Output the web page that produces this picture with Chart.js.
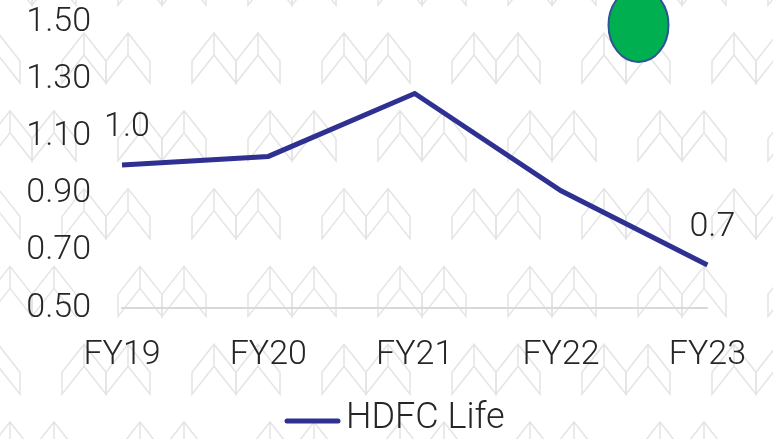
<!DOCTYPE html>
<html>
<head>
<meta charset="utf-8">
<script src="https://cdn.jsdelivr.net/npm/chart.js@4"></script>
<style>
  html, body { margin: 0; padding: 0; background: #fff; }
  #wrap { width: 773px; height: 439px; }
</style>
</head>
<body>
<div id="wrap"><canvas id="chart" width="773" height="439"></canvas></div>
<script>
const categories = ["FY19", "FY20", "FY21", "FY22", "FY23"];
const hdfcLife = [1.0, 1.03, 1.25, 0.91, 0.65];
const pointLabels = ["1.0", "", "", "", "0.7"];
const yMin = 0.5;
const yMax = 1.5;
const yStep = 0.2;

const fontFamily = "Roboto, 'Noto Sans', sans-serif";
const fontWeight = 300;
const textColor = "#262626";
const lineColor = "#2e3192";

// light grey double-chevron watermark behind everything
const watermark = {
  id: "watermark",
  beforeDraw(chart) {
    const ctx = chart.ctx;
    ctx.save();
    ctx.fillStyle = "#ffffff";
    ctx.fillRect(0, 0, chart.width, chart.height);
    ctx.strokeStyle = "#e4e4e4";
    ctx.lineWidth = 1.5;
    const rowH = 77.8;
    for (let r = -1; r < 7; r++) {
      const top = 33 + r * rowH;
      const startX = (r % 2 === 0) ? 62 : -12;
      for (let x0 = startX - 130; x0 < chart.width + 10; x0 += 130) {
        for (let c = 0; c < 2; c++) {
          const x = x0 + c * 44;
          ctx.beginPath();
          ctx.moveTo(x, top + 28);
          ctx.lineTo(x + 22, top);
          ctx.lineTo(x + 44, top + 28);
          ctx.lineTo(x + 44, top + 50);
          ctx.lineTo(x + 22, top + 22);
          ctx.lineTo(x, top + 50);
          ctx.closePath();
          ctx.moveTo(x + 22, top);
          ctx.lineTo(x + 22, top + 22);
          ctx.stroke();
        }
      }
    }
    ctx.restore();
  }
};

const extras = {
  id: "extras",
  afterDatasetsDraw(chart) {
    const ctx = chart.ctx;
    const meta = chart.getDatasetMeta(0);
    ctx.save();
    ctx.font = fontWeight + " 34px " + fontFamily;
    ctx.fillStyle = textColor;
    ctx.textAlign = "center";
    ctx.textBaseline = "middle";
    meta.data.forEach((pt, i) => {
      if (pointLabels[i]) ctx.fillText(pointLabels[i], pt.x + 5, pt.y - 38);
    });

    // green status dot
    ctx.beginPath();
    ctx.ellipse(638.5, 25, 30, 37, 0, 0, Math.PI * 2);
    ctx.fillStyle = "#00b050";
    ctx.fill();
    ctx.lineWidth = 2;
    ctx.strokeStyle = "#2f5597";
    ctx.stroke();

    // legend
    const ly = 421;
    ctx.beginPath();
    ctx.moveTo(287, ly);
    ctx.lineTo(338, ly);
    ctx.lineCap = "round";
    ctx.lineWidth = 5;
    ctx.strokeStyle = lineColor;
    ctx.stroke();
    ctx.font = fontWeight + " 36px " + fontFamily;
    ctx.fillStyle = textColor;
    ctx.textAlign = "left";
    ctx.fillText(chart.data.datasets[0].label, 346, ly - 2);
    ctx.restore();
  }
};

new Chart(document.getElementById("chart"), {
  type: "line",
  data: {
    labels: categories,
    datasets: [{
      label: "HDFC Life",
      data: hdfcLife,
      borderColor: lineColor,
      backgroundColor: lineColor,
      borderWidth: 5,
      pointRadius: 0,
      tension: 0,
      fill: false
    }]
  },
  options: {
    responsive: false,
    animation: false,
    layout: { padding: { top: 22, right: 64, left: 0, bottom: 58 } },
    plugins: {
      tooltip: { enabled: false },
      legend: { display: false }
    },
    scales: {
      x: {
        offset: false,
        grid: { display: false, drawTicks: false },
        border: { display: true, color: "#d9d9d9", width: 2 },
        ticks: { color: textColor, font: { family: fontFamily, size: 34, weight: fontWeight }, padding: 27, maxRotation: 0 },
        afterFit(scale) { scale.height = 73; }
      },
      y: {
        min: yMin,
        max: yMax,
        grid: { display: false, drawTicks: false },
        border: { display: false },
        ticks: {
          stepSize: yStep,
          color: textColor,
          font: { family: fontFamily, size: 34, weight: fontWeight },
          padding: 31,
          callback: v => v.toFixed(2)
        },
        afterFit(scale) {
          scale.width = 122;
          scale.paddingTop = 0;
          scale.paddingBottom = 0;
        }
      }
    }
  },
  plugins: [watermark, extras]
});
</script>
</body>
</html>
